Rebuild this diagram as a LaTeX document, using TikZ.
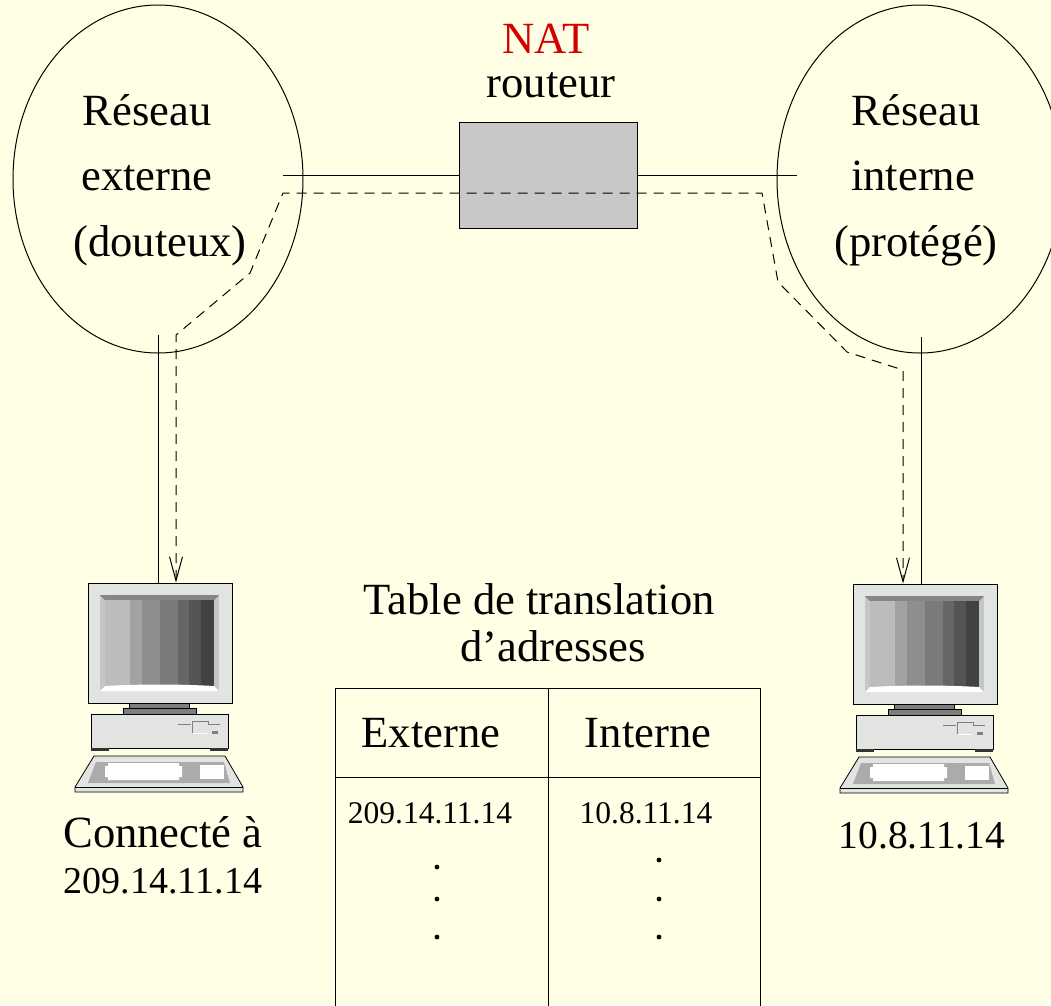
\documentclass[tikz,border=0pt]{standalone}
\usepackage{fontspec}
\setmainfont{Liberation Serif}
\usetikzlibrary{shapes.geometric,arrows.meta}
\definecolor{bg}{HTML}{FFFFE6}
\definecolor{natred}{HTML}{D40000}
\definecolor{boxgray}{HTML}{C8C8C8}
\definecolor{casegray}{HTML}{E2E4E2}
\definecolor{bezelgray}{HTML}{C4C8C4}
\definecolor{bezeltop}{HTML}{868686}
\definecolor{standgray}{HTML}{7E7E7E}
\definecolor{keygray}{HTML}{ABABAB}
\definecolor{scrA}{HTML}{BCBCBC}
\definecolor{scrB}{HTML}{A2A2A2}
\definecolor{scrC}{HTML}{8E8E8E}
\definecolor{scrD}{HTML}{7A7A7A}
\definecolor{scrE}{HTML}{666666}
\definecolor{scrF}{HTML}{545454}
\definecolor{scrG}{HTML}{424242}
\tikzset{
  lbl/.style={font=\fontsize{44.6}{50}\selectfont, inner sep=0pt, anchor=base},
  ipbig/.style={font=\fontsize{38}{44}\selectfont, inner sep=0pt, anchor=base},
  ipright/.style={font=\fontsize{39.5}{44}\selectfont, inner sep=0pt, anchor=base},
  iptab/.style={font=\fontsize{31.5}{36}\selectfont, inner sep=0pt, anchor=base},
  netcloud/.style={ellipse, draw, line width=1pt, inner sep=0pt, minimum height=348pt},
  link/.style={draw, line width=1pt},
  path/.style={draw, line width=1pt, dash pattern=on 10pt off 7pt,
    {Straight Barb[length=24pt,width=13pt,line width=1pt]}-{Straight Barb[length=24pt,width=13pt,line width=1pt]}},
  outl/.style={draw=black, line width=0.8pt},
  computer/.pic={
    % monitor case
    \node[outl, fill=casegray, minimum width=144pt, minimum height=120pt, inner sep=0pt] (-mon) at (72,60) {};
    % bezel and tube
    \fill[bezelgray] (12,12) rectangle (131,108);
    \fill[bezeltop] (12,12) -- (131,12) -- (126,17) -- (17,17) -- cycle;
    \foreach \xa/\xb/\col in {17/42/scrA, 42/54/scrB, 54/72/scrC, 72/90/scrD, 90/101/scrE, 101/113/scrF, 113/126/scrG}
      \fill[\col] (\xa,17) rectangle (\xb,103);
    \fill[white] (12,108) -- (131,108) -- (126,103) .. controls (90,101) and (53,101) .. (17,103) -- cycle;
    % stand
    \filldraw[outl, fill=standgray] (41,120) rectangle (101,125);
    \filldraw[outl, fill=standgray] (35,125) rectangle (108,131);
    % system unit
    \filldraw[outl, fill=casegray] (3,131) rectangle (140,165);
    \fill[black!80] (3,165) rectangle (21,168);
    \fill[black!80] (122,165) rectangle (140,168);
    % drive slot
    \draw[gray, line width=0.8pt] (90,141.5) -- (103,141.5);
    \draw[gray, line width=0.8pt] (104,150) -- (104,138) -- (120,138) -- (120,141) -- (132,141);
    \draw[white, line width=0.8pt] (105,150) -- (119,150);
    \fill[gray] (123.5,147.5) rectangle (130,150.5);
    % keyboard
    \filldraw[outl, fill=casegray] (6,173) -- (137,173) -- (155,204) -- (155,209) -- (-13,209) -- (-13,204) -- cycle;
    \draw[line width=0.6pt] (-13,204) -- (155,204);
    \fill[keygray] (8,179) -- (136,179) -- (142,200) -- (0,200) -- cycle;
    \fill[white] (17,183) -- (20,183) -- (20,180) -- (91,180) -- (91,183) -- (94,183)
      -- (94,194) -- (91,194) -- (91,197) -- (20,197) -- (20,194) -- (17,194) -- cycle;
    \fill[white] (112,182) rectangle (136,196);
  }
}
\begin{document}
\begin{tikzpicture}[x=1pt,y=-1pt]
\fill[bg] (0,0) rectangle (1051,1005);
\useasboundingbox (0,0) rectangle (1051,1005);

% the two networks
\node[netcloud, minimum width=290pt] (ext) at (158,179) {};
\node[netcloud, minimum width=286pt] (int) at (920,179) {};
\node[lbl] (extA) at (147,125) {Réseau};
\node[lbl] (extB) at (147,190) {externe};
\node[lbl] (extC) at (160,256) {(douteux)};
\node[lbl] (intA) at (916,125) {Réseau};
\node[lbl] (intB) at (913,190) {interne};
\node[lbl] (intC) at (916,256) {(protégé)};

% router
\node[draw, line width=1pt, fill=boxgray, minimum width=178pt, minimum height=106pt, inner sep=0pt] (rtr) at (548,175) {};
\node[lbl, text=natred] (nat) at (546,53) {NAT};
\node[lbl] (rtrlbl) at (551,97) {routeur};

% computers
\pic (pcL) at (88,583) {computer};
\pic (pcR) at (853,584) {computer};

% physical links
\coordinate (lnkL) at (283,175);
\coordinate (lnkR) at (797,175);
\coordinate (dropL) at (158,335);
\coordinate (dropR) at (921,337);
\draw[link] (lnkL) -- (rtr.west);
\draw[link] (rtr.east) -- (lnkR);
\draw[link] (dropL) -- (dropL |- pcL-mon.north);
\draw[link] (dropR) -- (dropR |- pcR-mon.north);

% logical connection through the router
\coordinate (pL1) at (176,335);
\coordinate (pR1) at (903,370);
\draw[path] (pL1 |- pcL-mon.north) -- (pL1) -- (250,273) -- (283,193) -- (762,193)
  -- (778,282) -- (847,352) -- (pR1) -- (pR1 |- pcR-mon.north);

% host labels
\node[lbl] (conn) at (163,847) {Connecté à};
\node[ipbig] (connip) at (163,893) {209.14.11.14};
\node[ipright] (hostip) at (922,848) {10.8.11.14};

% address translation table
\node[lbl] (tt1) at (539,614) {Table de translation};
\node[lbl] (tt2) at (553,661) {d’adresses};
\draw[line width=1pt] (335,1010) -- (335,688) -- (760,688) -- (760,1010);
\draw[line width=1pt] (548,688) -- (548,1010);
\draw[line width=1pt] (335,777) -- (760,777);
\node[lbl] (hExt) at (431,747) {Externe};
\node[lbl] (hInt) at (648,747) {Interne};
\node[iptab] (rowExt) at (430,823) {209.14.11.14};
\node[iptab] (rowInt) at (646,823) {10.8.11.14};
\foreach \y in {867,899,937} \fill (437,\y) circle (2.4pt);
\foreach \y in {860,899,937} \fill (659,\y) circle (2.4pt);
\end{tikzpicture}
\end{document}
